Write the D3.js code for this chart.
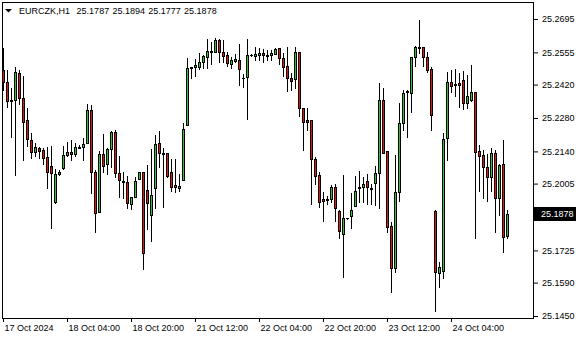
<!DOCTYPE html>
<html>
<head>
<meta charset="utf-8">
<script src="https://cdn.jsdelivr.net/npm/d3@7"></script>
<style>
body { margin: 0; background: #fff; }
svg { display: block; font-family: "Liberation Sans", Arial, sans-serif; font-size: 9px; }
</style>
</head>
<body>
<svg id="chart" width="580" height="340"></svg>
<script>
var symbol = "EURCZK,H1";

// hourly candles, 17 Oct 2024 .. 24 Oct 2024
var open = [
	25.2481, 25.2430, 25.2355, 25.2354, 25.2467, 25.2363, 25.2270, 25.2187, 25.2139, 25.2153,
	25.2146, 25.2115, 25.2079, 25.1927, 25.2044, 25.2072, 25.2124, 25.2139, 25.2128, 25.2155,
	25.2160, 25.2176, 25.2312, 25.2052, 25.1887, 25.2128, 25.2086, 25.2149, 25.2220, 25.2048,
	25.2017, 25.2010, 25.1918, 25.1950, 25.2023, 25.2052, 25.1978, 25.1873, 25.1985, 25.2174,
	25.2135, 25.2132, 25.2052, 25.1999, 25.1988, 25.2019, 25.2251, 25.2491, 25.2493, 25.2495,
	25.2513, 25.2537, 25.2558, 25.2558, 25.2607, 25.2555, 25.2544, 25.2505, 25.2520, 25.2522,
	25.2449, 25.2453, 25.2543, 25.2541, 25.2545, 25.2552, 25.2544, 25.2543, 25.2550, 25.2572,
	25.2530, 25.2498, 25.2448, 25.2442, 25.2555, 25.2321, 25.2270, 25.2270, 25.2107, 25.2040,
	25.1939, 25.1935, 25.1939, 25.1990, 25.1890, 25.1792, 25.1860, 25.1870, 25.1912, 25.1985,
	25.1992, 25.2017, 25.1988, 25.2006, 25.2048, 25.2355, 25.2142, 25.1827, 25.1650, 25.1969,
	25.2258, 25.2388, 25.2384, 25.2537, 25.2575, 25.2576, 25.2537, 25.2484, 25.1891, 25.1632,
	25.1640, 25.2197, 25.2430, 25.2423, 25.2425, 25.2438, 25.2342, 25.2355, 25.2388, 25.2142,
	25.2125, 25.2073, 25.2034, 25.2132, 25.1943, 25.2086, 25.1787
];
var high = [
	25.2575, 25.2481, 25.2405, 25.2493, 25.2481, 25.2456, 25.2321, 25.2216, 25.2174, 25.2160,
	25.2153, 25.2160, 25.2163, 25.2066, 25.2062, 25.2163, 25.2181, 25.2188, 25.2174, 25.2167,
	25.2195, 25.2339, 25.2335, 25.2062, 25.2142, 25.2213, 25.2155, 25.2226, 25.2230, 25.2121,
	25.2055, 25.2037, 25.1950, 25.2034, 25.2052, 25.2052, 25.2083, 25.2150, 25.2209, 25.2226,
	25.2153, 25.2135, 25.2108, 25.2108, 25.2044, 25.2258, 25.2533, 25.2495, 25.2526, 25.2551,
	25.2544, 25.2611, 25.2597, 25.2614, 25.2611, 25.2607, 25.2555, 25.2534, 25.2547, 25.2590,
	25.2463, 25.2611, 25.2548, 25.2576, 25.2572, 25.2569, 25.2565, 25.2565, 25.2575, 25.2575,
	25.2554, 25.2576, 25.2467, 25.2576, 25.2555, 25.2321, 25.2321, 25.2270, 25.2118, 25.2052,
	25.1971, 25.1954, 25.1999, 25.2003, 25.1894, 25.2041, 25.1861, 25.1967, 25.2037, 25.2059,
	25.2031, 25.2045, 25.2002, 25.2079, 25.2425, 25.2405, 25.2142, 25.1845, 25.2125, 25.2342,
	25.2397, 25.2397, 25.2537, 25.2583, 25.2691, 25.2579, 25.2558, 25.2493, 25.1894, 25.1678,
	25.2216, 25.2472, 25.2481, 25.2484, 25.2467, 25.2477, 25.2460, 25.2502, 25.2388, 25.2167,
	25.2146, 25.2128, 25.2153, 25.2146, 25.2086, 25.2188, 25.1894
];
var low = [
	25.2397, 25.2327, 25.2202, 25.2041, 25.2337, 25.2104, 25.2164, 25.2114, 25.2122, 25.2114,
	25.2088, 25.1988, 25.1820, 25.1922, 25.2041, 25.2066, 25.2122, 25.2104, 25.2122, 25.2154,
	25.2104, 25.2176, 25.1964, 25.1803, 25.1887, 25.2052, 25.2044, 25.2076, 25.2031, 25.1950,
	25.1946, 25.1904, 25.1897, 25.1950, 25.2023, 25.1647, 25.1813, 25.1766, 25.1904, 25.2076,
	25.1908, 25.2034, 25.1974, 25.1971, 25.1974, 25.2019, 25.2251, 25.2449, 25.2457, 25.2484,
	25.2488, 25.2491, 25.2505, 25.2558, 25.2513, 25.2516, 25.2499, 25.2488, 25.2516, 25.2418,
	25.2411, 25.2276, 25.2541, 25.2523, 25.2523, 25.2516, 25.2523, 25.2523, 25.2548, 25.2506,
	25.2456, 25.2393, 25.2397, 25.2407, 25.2290, 25.2146, 25.2230, 25.1920, 25.2003, 25.1908,
	25.1849, 25.1920, 25.1929, 25.1849, 25.1776, 25.1615, 25.1858, 25.1818, 25.1912, 25.1929,
	25.1929, 25.1920, 25.1920, 25.1915, 25.1901, 25.2135, 25.1803, 25.1552, 25.1636, 25.1933,
	25.2230, 25.2202, 25.2306, 25.2499, 25.2554, 25.2499, 25.2474, 25.2230, 25.1471, 25.1573,
	25.1608, 25.2104, 25.2390, 25.2373, 25.2327, 25.2318, 25.2321, 25.2351, 25.1778, 25.1974,
	25.1946, 25.1933, 25.1974, 25.1803, 25.1873, 25.1720, 25.1777
];
var close = [
	25.2432, 25.2351, 25.2353, 25.2472, 25.2363, 25.2264, 25.2191, 25.2139, 25.2157, 25.2143,
	25.2114, 25.2055, 25.2048, 25.2044, 25.2055, 25.2125, 25.2137, 25.2128, 25.2158, 25.2158,
	25.2171, 25.2312, 25.2055, 25.1883, 25.2128, 25.2080, 25.2149, 25.2220, 25.2048, 25.2019,
	25.2010, 25.1922, 25.1948, 25.2016, 25.2052, 25.1713, 25.1922, 25.1957, 25.2171, 25.2132,
	25.2128, 25.2038, 25.1992, 25.1990, 25.1995, 25.2233, 25.2488, 25.2494, 25.2502, 25.2513,
	25.2540, 25.2561, 25.2562, 25.2607, 25.2555, 25.2541, 25.2509, 25.2522, 25.2527, 25.2484,
	25.2446, 25.2543, 25.2545, 25.2548, 25.2552, 25.2543, 25.2541, 25.2554, 25.2571, 25.2530,
	25.2495, 25.2446, 25.2436, 25.2555, 25.2321, 25.2262, 25.2264, 25.2107, 25.2038, 25.1927,
	25.1932, 25.1940, 25.1990, 25.1901, 25.1806, 25.1860, 25.1860, 25.1894, 25.1974, 25.1991,
	25.2003, 25.1990, 25.1981, 25.2048, 25.2355, 25.2135, 25.1824, 25.1650, 25.1969, 25.2258,
	25.2384, 25.2393, 25.2537, 25.2579, 25.2578, 25.2537, 25.2481, 25.2293, 25.1636, 25.1654,
	25.2191, 25.2432, 25.2415, 25.2420, 25.2420, 25.2342, 25.2372, 25.2388, 25.2136, 25.2122,
	25.2076, 25.2034, 25.2132, 25.1943, 25.2082, 25.1782, 25.1878
];

var timeTickIndex = [0, 16, 32, 48, 64, 80, 96, 112];
var timeTickLabels = ["17 Oct 2024", "18 Oct 04:00", "18 Oct 20:00", "21 Oct 12:00",
	"22 Oct 04:00", "22 Oct 20:00", "23 Oct 12:00", "24 Oct 04:00"];
var priceTicks = [25.2695, 25.2555, 25.2420, 25.2280, 25.2140, 25.2005, 25.1725, 25.1590, 25.1450];

var bullColor = "#32c232",
	bearColor = "#e01414";

var svg = d3.select("#chart"),
	frame = {left: 2, top: 2, right: 533, bottom: 318};

var xScale = d3.scaleLinear().domain([0, open.length - 1]).range([3, 3 + 4 * (open.length - 1)]),
	yScale = d3.scaleLinear().domain([25.1450, 25.2695]).range([316, 19]);

var candles = open.map(function(o, i) {
	return {i: i, open: o, high: high[i], low: low[i], close: close[i]};
});

function py(v) { return Math.round(yScale(v)); }

// candles
var g = svg.append("g").attr("class", "candles");

g.selectAll(".wick")
	.data(candles)
	.enter().append("rect")
	.attr("class", "wick")
	.attr("x", function(d) { return xScale(d.i); })
	.attr("y", function(d) { return py(d.high); })
	.attr("width", 1)
	.attr("height", function(d) { return py(d.low) - py(d.high) + 1; })
	.attr("fill", "#000");

g.selectAll(".body")
	.data(candles)
	.enter().append("rect")
	.attr("class", "body")
	.attr("x", function(d) { return xScale(d.i) - 1; })
	.attr("y", function(d) { return py(Math.max(d.open, d.close)); })
	.attr("width", 3)
	.attr("height", function(d) { return py(Math.min(d.open, d.close)) - py(Math.max(d.open, d.close)) + 1; })
	.attr("fill", "#000");

g.selectAll(".fill")
	.data(candles.filter(function(d) {
		return py(Math.min(d.open, d.close)) - py(Math.max(d.open, d.close)) >= 2;
	}))
	.enter().append("rect")
	.attr("class", "fill")
	.attr("x", function(d) { return xScale(d.i); })
	.attr("y", function(d) { return py(Math.max(d.open, d.close)) + 1; })
	.attr("width", 1)
	.attr("height", function(d) { return py(Math.min(d.open, d.close)) - py(Math.max(d.open, d.close)) - 1; })
	.attr("fill", function(d) { return d.close >= d.open ? bullColor : bearColor; });

// frame
svg.append("rect")
	.attr("x", frame.left + 0.5)
	.attr("y", frame.top + 0.5)
	.attr("width", frame.right - frame.left)
	.attr("height", frame.bottom - frame.top)
	.attr("fill", "none")
	.attr("stroke", "#000");

// price axis
var yAxis = svg.append("g")
	.attr("transform", "translate(" + (frame.right + 1) + ",0)")
	.call(d3.axisRight(yScale).tickValues(priceTicks).tickSize(4).tickPadding(4)
		.tickFormat(d3.format(".4f")));
yAxis.select(".domain").remove();
yAxis.selectAll("text").attr("font-size", 9).attr("font-family", "Liberation Sans, Arial, sans-serif").attr("fill", "#000");

// time axis
var xAxis = svg.append("g")
	.attr("transform", "translate(0," + (frame.bottom + 1) + ")")
	.call(d3.axisBottom(xScale).tickValues(timeTickIndex).tickSize(3).tickPadding(3)
		.tickFormat(function(d, i) { return timeTickLabels[i]; }));
xAxis.select(".domain").remove();
xAxis.selectAll("text")
	.attr("text-anchor", "start")
	.attr("x", 1)
	.attr("font-size", 9)
	.attr("font-family", "Liberation Sans, Arial, sans-serif")
	.attr("fill", "#000");

// last price label
var last = close[close.length - 1];
svg.append("rect")
	.attr("x", frame.right + 1)
	.attr("y", py(last) - 7)
	.attr("width", 42)
	.attr("height", 14)
	.attr("fill", "#000");
svg.append("text")
	.attr("x", frame.right + 8)
	.attr("y", py(last))
	.attr("dy", "0.35em")
	.attr("fill", "#fff")
	.text(d3.format(".4f")(last));

// header
svg.append("path")
	.attr("d", "M5,9 L12,9 L8.5,12.5 Z")
	.attr("fill", "#000");
svg.append("text")
	.attr("x", 19)
	.attr("y", 14)
	.attr("fill", "#000")
	.style("white-space", "pre")
	.style("word-spacing", "0.8px")
	.text(symbol + "  " + [open, high, low, close].map(function(a) {
		return d3.format(".4f")(a[a.length - 1]);
	}).join(" "));
</script>
</body>
</html>
